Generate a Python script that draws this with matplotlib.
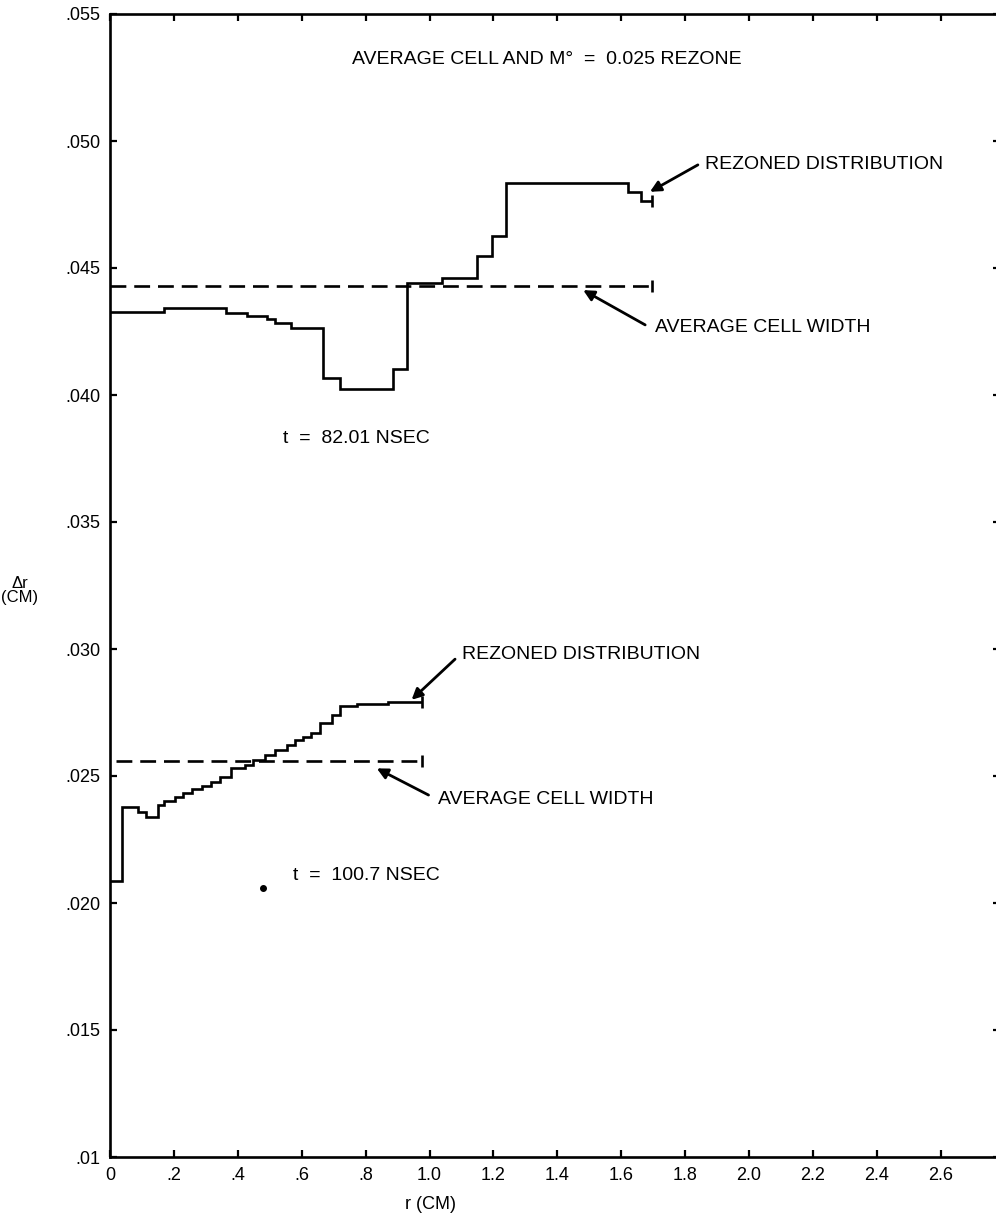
import matplotlib
matplotlib.use("Agg")
import matplotlib.pyplot as plt
from matplotlib.transforms import blended_transform_factory

plt.rcParams['font.family'] = ['Liberation Sans', 'DejaVu Sans']

# -------------------
# Data
# -------------------
# t = 82.01 nsec, rezoned cell widths
r_edges_82 = [0, 0.170, 0.363, 0.428, 0.490, 0.516, 0.566, 0.666, 0.720, 0.885,
              0.929, 1.038, 1.150, 1.197, 1.241, 1.622, 1.661, 1.697]
dr_82 = [0.04326, 0.04344, 0.04322, 0.04312, 0.04299, 0.04282, 0.04265, 0.04066,
         0.04022, 0.04102, 0.04440, 0.04459, 0.04549, 0.04626, 0.04833, 0.04798,
         0.04765]
avg_82 = 0.04430
avg_82_span = [0.0, 1.695]

# t = 100.7 nsec
r_edges_100 = [0, 0.036, 0.089, 0.112, 0.151, 0.170, 0.203, 0.230, 0.258, 0.287,
               0.316, 0.344, 0.379, 0.423, 0.449, 0.485, 0.516, 0.553, 0.580,
               0.605, 0.630, 0.657, 0.694, 0.720, 0.772, 0.871, 0.975]
dr_100 = [0.02088, 0.02377, 0.02360, 0.02338, 0.02386, 0.02403, 0.02419, 0.02434,
          0.02447, 0.02461, 0.02477, 0.02497, 0.02530, 0.02543, 0.02563, 0.02583,
          0.02602, 0.02622, 0.02642, 0.02655, 0.02669, 0.02708, 0.02740, 0.02776,
          0.02783, 0.02792]
avg_100 = 0.02560
avg_100_span = [0.02, 0.975]

x_ticks = [0, 0.2, 0.4, 0.6, 0.8, 1.0, 1.2, 1.4, 1.6, 1.8, 2.0, 2.2, 2.4, 2.6]
x_labels = ["0", ".2", ".4", ".6", ".8", "1.0", "1.2", "1.4", "1.6", "1.8",
            "2.0", "2.2", "2.4", "2.6"]
y_ticks = [0.01, 0.015, 0.02, 0.025, 0.03, 0.035, 0.04, 0.045, 0.05, 0.055]
y_labels = [".01", ".015", ".020", ".025", ".030", ".035", ".040", ".045",
            ".050", ".055"]

# -------------------
# Figure
# -------------------
W, H = 996, 1220
fig = plt.figure(figsize=(W / 100, H / 100), dpi=100)
xmax = 2.785
px_per_unit = 319.5
ax = fig.add_axes([110 / W, 1 - 1157 / H, xmax * px_per_unit / W, (1157 - 14) / H])

lw = 1.9
ax.stairs(dr_82, r_edges_82, baseline=None, color='k', lw=lw)
ax.stairs(dr_100, r_edges_100, baseline=None, color='k', lw=lw)

# curve end bars
ax.plot([r_edges_82[-1]], [dr_82[-1]], marker='|', ms=8, mew=lw, color='k')
ax.plot([r_edges_100[-1]], [dr_100[-1]], marker='|', ms=8, mew=lw, color='k')

# average cell width lines
for span, val in [(avg_82_span, avg_82), (avg_100_span, avg_100)]:
    ax.plot(span, [val, val], color='k', lw=lw, dashes=(6, 3))
    ax.plot([span[1]], [val], marker='|', ms=8, mew=lw, color='k')

ax.plot([0.480], [0.02061], 'o', color='k', ms=4)

fs = 14
ax.text(0.757, 0.05319, "AVERAGE CELL AND M°  =  0.025 REZONE", fontsize=fs,
        va='center', ha='left')
ax.text(0.54, 0.0383, "t  =  82.01 NSEC", fontsize=fs, va='center')
ax.text(0.574, 0.0211, "t  =  100.7 NSEC", fontsize=fs, va='center')

arrow = dict(arrowstyle='-|>', color='k', lw=2, mutation_scale=16,
             shrinkA=0, shrinkB=0)
notes = [
    ("REZONED DISTRIBUTION", (1.862, 0.04906), (1.84, 0.04906), (1.690, 0.0480)),
    ("AVERAGE CELL WIDTH", (1.706, 0.04264), (1.675, 0.04276), (1.481, 0.04413)),
    ("REZONED DISTRIBUTION", (1.102, 0.0298), (1.08, 0.0296), (0.944, 0.0280)),
    ("AVERAGE CELL WIDTH", (1.028, 0.02406), (0.997, 0.02425), (0.835, 0.0253)),
]
for label, txt_pos, tail, head in notes:
    ax.text(txt_pos[0], txt_pos[1], label, fontsize=fs, va='center', ha='left')
    ax.annotate("", xy=head, xytext=tail, arrowprops=arrow)

# -------------------
# Axes styling
# -------------------
ax.set_xlim(0, xmax)
ax.set_ylim(0.01, 0.055)
ax.set_xticks(x_ticks)
ax.set_xticklabels(x_labels)
ax.set_yticks(y_ticks)
ax.set_yticklabels(y_labels)
ax.tick_params(direction='in', length=5, width=1.6, labelsize=13,
               top=True, right=True, pad=7)
ax.spines['right'].set_visible(False)
for s in ['left', 'bottom', 'top']:
    ax.spines[s].set_linewidth(1.9)

ax.set_xlabel("r (CM)", fontsize=13)
ax.xaxis.set_label_coords(320 / (xmax * px_per_unit), -0.034)

trans = blended_transform_factory(fig.transFigure, ax.transData)
ax.text(20 / W, 0.0323, "Δr\n(CM)", transform=trans, fontsize=12,
        ha='center', va='center', linespacing=0.9)

fig.savefig("out.png", dpi=100)
